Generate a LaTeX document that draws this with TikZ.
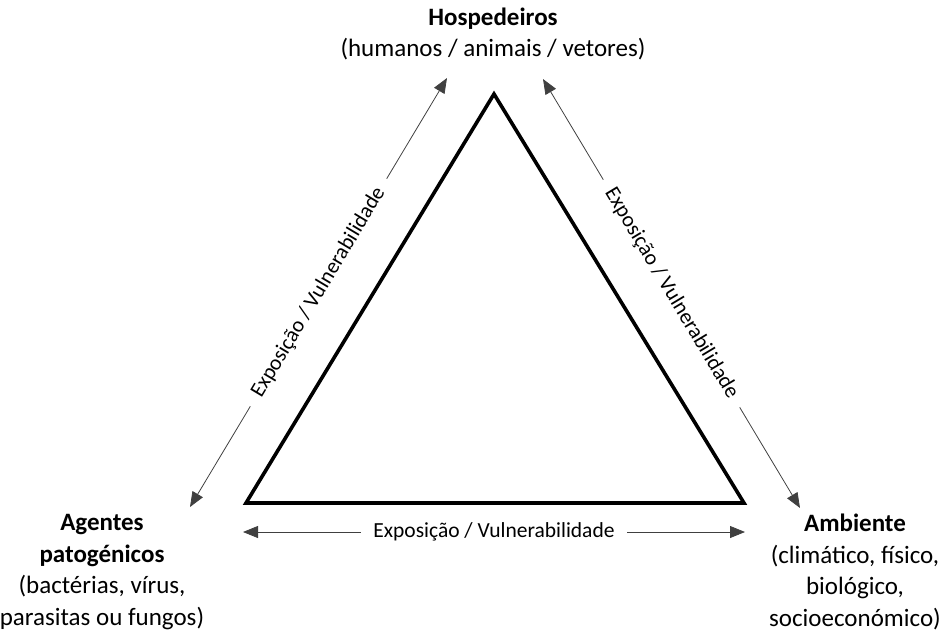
\documentclass[tikz,border=0pt]{standalone}
\usepackage{fontspec}
\setmainfont{Carlito}
\usetikzlibrary{arrows.meta}
\begin{document}
\begin{tikzpicture}[x=1pt,y=-1pt,
  big/.style={font=\fontsize{25}{31.5}\selectfont, align=center, inner sep=0pt},
  lab/.style={font=\fontsize{21.5}{24}\selectfont, fill=white, inner xsep=12pt, inner ysep=4pt, sloped},
  conn/.style={draw=black!75, line width=0.8pt, {Triangle[length=15pt,width=12pt]}-{Triangle[length=15pt,width=12pt]}}
]
\useasboundingbox (0,0) rectangle (946,633);
% triangle
\coordinate (T) at (494,94);
\coordinate (BL) at (246,503);
\coordinate (BR) at (744,503);
\draw[line width=3.6pt, line join=miter] (T) -- (BL) -- (BR) -- cycle;
% texts
\node[big] (host) at (493,34) {\textbf{Hospedeiros}\\(humanos / animais / vetores)};
\node[big] (agent) at (102,572) {\textbf{Agentes}\\\textbf{patogénicos}\\(bactérias, vírus,\\parasitas ou fungos)};
\node[big] (env) at (855,572) {\textbf{Ambiente}\\(climático, físico,\\biológico,\\socioeconómico)};
% arrow ends
\coordinate (a1) at (447,78);
\coordinate (a2) at (190,507);
\coordinate (b1) at (543,79);
\coordinate (b2) at (800,508);
\coordinate (c1) at (243,532);
\coordinate (c2) at (745,532);
\draw[conn] (a2) -- node[lab] (la) {Exposição / Vulnerabilidade} (a1);
\draw[conn] (b1) -- node[lab] (lb) {Exposição / Vulnerabilidade} (b2);
\draw[conn] (c1) -- node[lab] (lc) {Exposição / Vulnerabilidade} (c2);
\end{tikzpicture}
\end{document}
